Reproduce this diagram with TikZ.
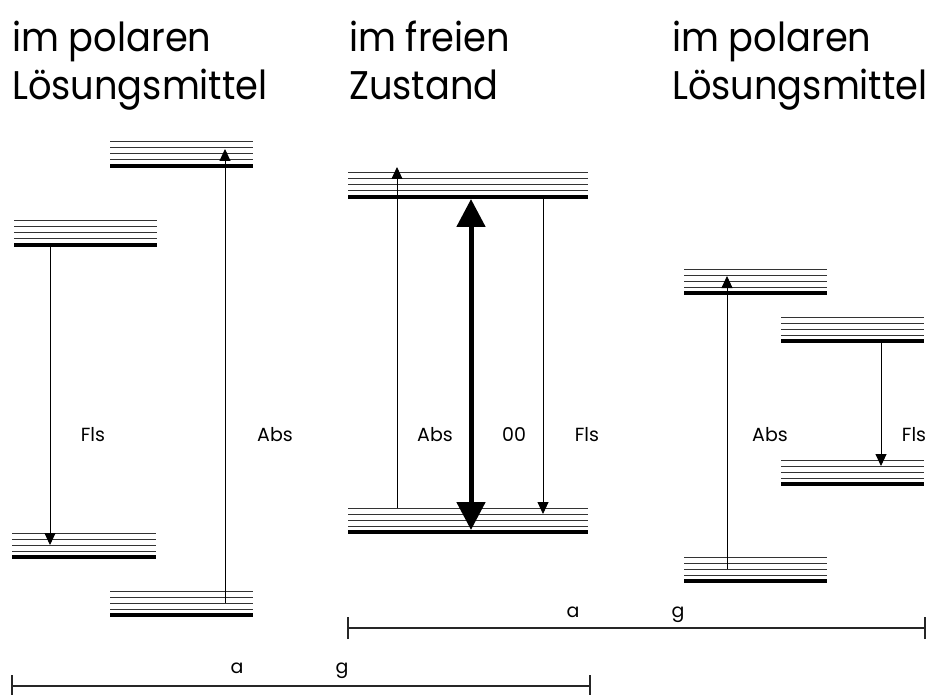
\documentclass[tikz,border=0pt]{standalone}
\usepackage{fontspec}
\setmainfont{Poppins}
\usetikzlibrary{arrows.meta}
\tikzset{
  thinlvl/.style={line width=1pt, black!80},
  thicklvl/.style={line width=4.5pt, black},
  trans/.style={line width=0.9pt, -{Triangle[length=12pt,width=11pt]}},
  bigtrans/.style={line width=5pt, {Triangle[length=28pt,width=28pt]}-{Triangle[length=28pt,width=28pt]}},
  title/.style={anchor=base west, inner sep=0pt, font=\fontsize{40}{48}\selectfont, xscale=0.92},
  lbl/.style={anchor=base, inner sep=0pt, font=\fontsize{19}{23}\selectfont},
  scalebar/.style={line width=1.2pt, black!85},
  tick/.style={line width=2.2pt, black!85}
}
\newcommand{\lvlstack}[3]{%
  \foreach \d in {0,6,12,18} {\draw[thinlvl] (#1,#3+\d) -- (#2,#3+\d);}
  \draw[thicklvl] (#1,#3+24) -- (#2,#3+24);
}
\begin{document}
\begin{tikzpicture}[x=1pt,y=-1pt]
\useasboundingbox (0,0) rectangle (937,695);
% titles
\node[title] (t1a) at (12,52) {im polaren};
\node[title] (t1b) at (12,100) {Lösungsmittel};
\node[title] (t2a) at (349,52) {im freien};
\node[title] (t2b) at (349,100) {Zustand};
\node[title] (t3a) at (672,52) {im polaren};
\node[title] (t3b) at (672,100) {Lösungsmittel};
% level stacks
\lvlstack{14}{157}{221}
\lvlstack{110}{253}{142}
\lvlstack{12}{156}{533}
\lvlstack{110}{253}{591}
\lvlstack{348}{588}{173}
\lvlstack{348}{588}{508}
\lvlstack{684}{827}{269}
\lvlstack{781}{924}{317}
\lvlstack{781}{924}{460}
\lvlstack{684}{827}{557}
% transition end points
\coordinate (lf1) at (50,245);  \coordinate (lf2) at (50,545);
\coordinate (la1) at (225,603); \coordinate (la2) at (225,149);
\coordinate (ca1) at (397,508); \coordinate (ca2) at (397,167);
\coordinate (c01) at (471,199); \coordinate (c02) at (471,530);
\coordinate (cf1) at (543,197); \coordinate (cf2) at (543,514);
\coordinate (ra1) at (727,569); \coordinate (ra2) at (727,276);
\coordinate (rf1) at (881,341); \coordinate (rf2) at (881,466);
\draw[trans] (lf1) -- (lf2);
\draw[trans] (la1) -- (la2);
\draw[trans] (ca1) -- (ca2);
\draw[bigtrans] (c01) -- (c02);
\draw[trans] (cf1) -- (cf2);
\draw[trans] (ra1) -- (ra2);
\draw[trans] (rf1) -- (rf2);
% labels
\node[lbl] (l1) at (93,441) {Fls};
\node[lbl] (l2) at (275,441) {Abs};
\node[lbl] (l3) at (435,441) {Abs};
\node[lbl] (l4) at (514,441) {00};
\node[lbl] (l5) at (587,441) {Fls};
\node[lbl] (l6) at (770,441) {Abs};
\node[lbl] (l7) at (914,441) {Fls};
% scale bars
\coordinate (r1) at (348,628); \coordinate (r2) at (925,628);
\draw[scalebar] (r1) -- (r2);
\draw[tick] ([yshift=-11pt]r1) -- ([yshift=11pt]r1);
\draw[tick] ([yshift=-11pt]r2) -- ([yshift=11pt]r2);
\node[lbl] (ra) at (573,617) {a};
\node[lbl] (rg) at (678,617) {g};
\coordinate (b1) at (12,686); \coordinate (b2) at (590,686);
\draw[scalebar] (b1) -- (b2);
\draw[tick] ([yshift=-11pt]b1) -- ([yshift=11pt]b1);
\draw[tick] ([yshift=-11pt]b2) -- ([yshift=11pt]b2);
\node[lbl] (ba) at (237,673) {a};
\node[lbl] (bg) at (342,673) {g};
\end{tikzpicture}
\end{document}
